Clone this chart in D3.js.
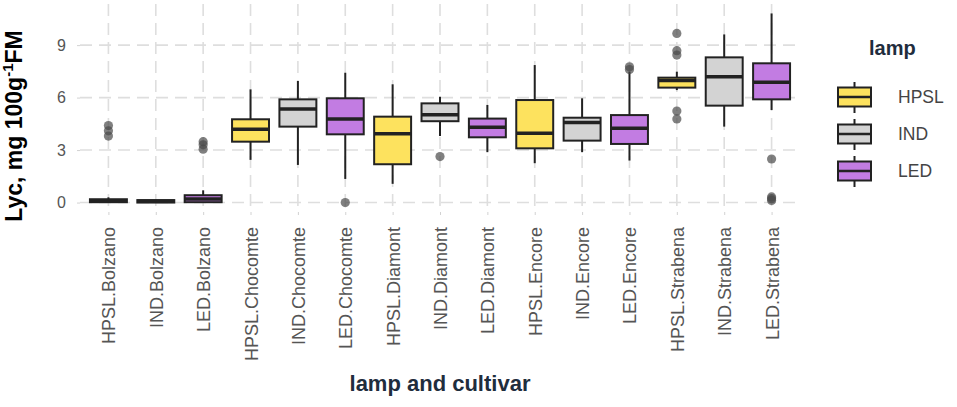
<!DOCTYPE html>
<html>
<head>
<meta charset="utf-8">
<script src="https://cdn.jsdelivr.net/npm/d3@7"></script>
<style>
  body { margin: 0; background: #fff; }
  text { font-family: "Liberation Sans", Arial, sans-serif; }
</style>
</head>
<body>
<div id="chart"></div>
<script>
var categories = ["HPSL.Bolzano", "IND.Bolzano", "LED.Bolzano",
                  "HPSL.Chocomte", "IND.Chocomte", "LED.Chocomte",
                  "HPSL.Diamont", "IND.Diamont", "LED.Diamont",
                  "HPSL.Encore", "IND.Encore", "LED.Encore",
                  "HPSL.Strabena", "IND.Strabena", "LED.Strabena"];
var lamps = ["HPSL", "IND", "LED"];

// box statistics
var whiskLo = [0.0, 0.0, 0.0, 2.44, 2.15, 1.35, 1.07, 3.8, 2.88, 2.25, 2.88, 2.4, 6.43, 4.34, 5.29];
var q1 = [0.02, 0.0, 0.02, 3.48, 4.34, 3.9, 2.19, 4.65, 3.73, 3.1, 3.54, 3.35, 6.57, 5.54, 5.9];
var median = [0.1, 0.07, 0.2, 4.19, 5.35, 4.78, 3.94, 5.02, 4.3, 3.96, 4.57, 4.25, 6.97, 7.19, 6.87];
var q3 = [0.19, 0.14, 0.42, 4.76, 5.9, 5.96, 4.91, 5.67, 4.8, 5.86, 4.85, 5.0, 7.14, 8.3, 7.96];
var whiskHi = [0.3, 0.15, 0.7, 6.47, 6.95, 7.42, 6.76, 6.05, 5.58, 7.86, 5.96, 7.48, 7.48, 9.61, 10.81];
var outliers = [[4.4, 4.1, 3.8], [], [3.48, 3.3, 3.05],
                [], [], [0.0],
                [], [2.63], [],
                [], [], [7.76, 7.6],
                [9.67, 8.68, 8.43, 5.23, 4.78], [], [2.49, 0.32, 0.22, 0.12]];
var yTicks = [0, 3, 6, 9];

var fills = {HPSL: "#fde25e", IND: "#d3d3d3", LED: "#c27ce2"};

var width = 957, height = 407;
var panel = {left: 80, right: 800, top: 4, bottom: 212};

var svg = d3.select("#chart").append("svg")
    .attr("width", width)
    .attr("height", height);

svg.append("rect").attr("width", width).attr("height", height).attr("fill", "#fff");

var x = d3.scalePoint().domain(categories).range([panel.left, panel.right]).padding(0.6);
var y = d3.scaleLinear().domain([-0.54, 11.35]).range([panel.bottom, panel.top]);
var boxW = x.step() * 0.78;

// grid
var grid = svg.append("g");
grid.selectAll(".hg").data(yTicks).enter().append("line")
    .attr("x1", panel.left).attr("x2", panel.right)
    .attr("y1", function(d) { return y(d); }).attr("y2", function(d) { return y(d); })
    .attr("stroke", "#dedede").attr("stroke-width", 1.6).attr("stroke-dasharray", "12,7");
grid.selectAll(".vg").data(categories).enter().append("line")
    .attr("x1", function(d) { return x(d); }).attr("x2", function(d) { return x(d); })
    .attr("y1", panel.top).attr("y2", panel.bottom)
    .attr("stroke", "#dedede").attr("stroke-width", 1.6).attr("stroke-dasharray", "12,7");

// axes
var xAxis = svg.append("g")
    .attr("transform", "translate(0," + panel.bottom + ")")
    .call(d3.axisBottom(x).tickSize(3).tickPadding(4));
xAxis.select(".domain").remove();
xAxis.selectAll(".tick line").attr("stroke", "#d2d2d2");
xAxis.selectAll(".tick text")
    .attr("transform", "rotate(-90)")
    .attr("text-anchor", "end")
    .attr("x", -15).attr("y", 0).attr("dy", "0.36em")
    .attr("fill", "#555").style("font-size", "18px");

var yAxis = svg.append("g")
    .attr("transform", "translate(" + panel.left + ",0)")
    .call(d3.axisLeft(y).tickValues(yTicks).tickSize(3).tickPadding(11));
yAxis.select(".domain").remove();
yAxis.selectAll(".tick line").attr("stroke", "#d2d2d2");
yAxis.selectAll(".tick text").attr("fill", "#555").style("font-size", "16px");

// boxes
var idx = d3.range(categories.length);
var lampOf = function(i) { return categories[i].split(".")[0]; };
var boxes = svg.append("g").selectAll("g").data(idx).enter().append("g");

boxes.append("line")
    .attr("x1", function(i) { return x(categories[i]); }).attr("x2", function(i) { return x(categories[i]); })
    .attr("y1", function(i) { return y(whiskHi[i]); }).attr("y2", function(i) { return y(q3[i]); })
    .attr("stroke", "#222").attr("stroke-width", 2);
boxes.append("line")
    .attr("x1", function(i) { return x(categories[i]); }).attr("x2", function(i) { return x(categories[i]); })
    .attr("y1", function(i) { return y(q1[i]); }).attr("y2", function(i) { return y(whiskLo[i]); })
    .attr("stroke", "#222").attr("stroke-width", 2);
boxes.append("rect")
    .attr("x", function(i) { return x(categories[i]) - boxW / 2; })
    .attr("width", boxW)
    .attr("y", function(i) { return y(q3[i]); })
    .attr("height", function(i) { return Math.max(y(q1[i]) - y(q3[i]), 1); })
    .attr("fill", function(i) { return fills[lampOf(i)]; })
    .attr("stroke", "#222").attr("stroke-width", 2);
boxes.append("line")
    .attr("x1", function(i) { return x(categories[i]) - boxW / 2; })
    .attr("x2", function(i) { return x(categories[i]) + boxW / 2; })
    .attr("y1", function(i) { return y(median[i]); }).attr("y2", function(i) { return y(median[i]); })
    .attr("stroke", "#222").attr("stroke-width", 3.5);

boxes.selectAll("circle")
    .data(function(i) { return outliers[i].map(function(v) { return {c: categories[i], v: v}; }); })
    .enter().append("circle")
    .attr("cx", function(d) { return x(d.c); })
    .attr("cy", function(d) { return y(d.v); })
    .attr("r", 4.6)
    .attr("fill", "#4a4a4a").attr("fill-opacity", 0.7);

// axis titles
svg.append("text")
    .attr("x", x("IND.Diamont")).attr("y", 391)
    .attr("text-anchor", "middle")
    .attr("fill", "#1f2d3d").style("font-size", "22px").style("font-weight", "bold")
    .text("lamp and cultivar");

var yt = svg.append("text")
    .attr("transform", "translate(22,126) rotate(-90)")
    .attr("text-anchor", "middle")
    .attr("fill", "#000").style("font-size", "23px").style("font-weight", "bold");
yt.append("tspan").text("Lyc, mg 100g");
yt.append("tspan").attr("dy", -9).style("font-size", "15px").text("-1");
yt.append("tspan").attr("dy", 9).text("FM");

// legend
var legend = svg.append("g");
legend.append("text")
    .attr("x", 869).attr("y", 55)
    .attr("fill", "#1f2d3d").style("font-size", "20px").style("font-weight", "bold")
    .text("lamp");
var keys = legend.selectAll(".key").data(lamps).enter().append("g")
    .attr("transform", function(d, i) { return "translate(0," + (97 + i * 37) + ")"; });
keys.append("line").attr("x1", 854.5).attr("x2", 854.5).attr("y1", -15).attr("y2", 16)
    .attr("stroke", "#222").attr("stroke-width", 2);
keys.append("rect").attr("x", 838).attr("y", -9.5).attr("width", 33).attr("height", 19)
    .attr("fill", function(d) { return fills[d]; })
    .attr("stroke", "#222").attr("stroke-width", 2);
keys.append("line").attr("x1", 838).attr("x2", 871).attr("y1", 0).attr("y2", 0)
    .attr("stroke", "#222").attr("stroke-width", 2.5);
keys.append("text")
    .attr("x", 898).attr("y", 0).attr("dy", "0.36em")
    .attr("fill", "#444").style("font-size", "17.5px")
    .text(function(d) { return d; });
</script>
</body>
</html>
